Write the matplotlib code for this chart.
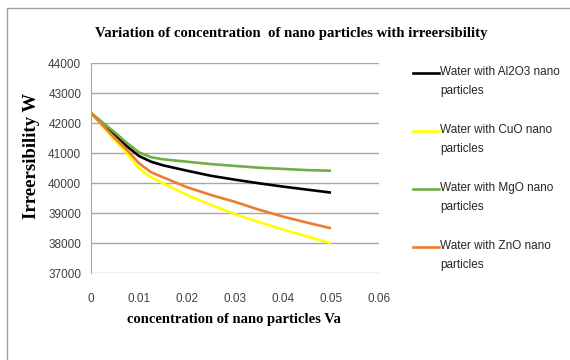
import matplotlib
matplotlib.use('Agg')
import matplotlib.pyplot as plt
from matplotlib.lines import Line2D
from matplotlib.patches import Rectangle

# concentration of nano particles (Va)
va = [0, 0.005, 0.0075, 0.01, 0.0125, 0.015, 0.02, 0.025, 0.03, 0.035, 0.04, 0.045, 0.05]

# irreversibility W
al2o3 = [42340, 41630, 41230, 40910, 40720, 40600, 40420, 40250, 40120, 40000, 39890, 39790, 39690]
cuo = [42340, 41430, 41000, 40500, 40200, 40000, 39610, 39280, 38970, 38710, 38460, 38230, 38000]
mgo = [42340, 41690, 41340, 41030, 40870, 40800, 40720, 40640, 40580, 40520, 40480, 40440, 40420]
zno = [42340, 41500, 41110, 40670, 40370, 40200, 39870, 39610, 39380, 39120, 38890, 38690, 38500]

labels = ['Water with Al2O3 nano\nparticles', 'Water with CuO nano\nparticles',
          'Water with MgO nano\nparticles', 'Water with ZnO nano\nparticles']
colors = ['#000000', '#FFFF00', '#70AD47', '#ED7D31']
series = [al2o3, cuo, mgo, zno]

W, H = 570, 360
fig = plt.figure(figsize=(W / 100, H / 100), dpi=100)
ax = fig.add_axes([91 / W, 1 - 273.3 / H, 288 / W, 210 / H])

for vals, c in zip(series, colors):
    ax.plot(va, vals, color=c, lw=1.9, solid_capstyle='butt', solid_joinstyle='round')

ax.set_xlim(0, 0.06)
ax.set_ylim(37000, 44000)
ax.set_xticks([0, 0.01, 0.02, 0.03, 0.04, 0.05, 0.06])
ax.set_xticklabels(['0', '0.01', '0.02', '0.03', '0.04', '0.05', '0.06'])
ax.set_yticks(range(37000, 44001, 1000))
ax.grid(axis='y', color='#A6A6A6', lw=1)
ax.set_axisbelow(True)
for s in ['top', 'right', 'bottom']:
    ax.spines[s].set_visible(False)
ax.spines['left'].set_color('#A6A6A6')
ax.tick_params(length=0, labelsize=8.5, colors='#404040', pad=7)
for t in ax.get_xticklabels() + ax.get_yticklabels():
    t.set_family('Liberation Sans')
ax.tick_params(axis='x', pad=14)

serif = 'Liberation Serif'
fig.text(291 / W, 1 - 33 / H, 'Variation of concentration  of nano particles with irreersibility',
         ha='center', va='center', family=serif, weight='bold', fontsize=10.6)
fig.text(234 / W, 1 - 319 / H, 'concentration of nano particles Va',
         ha='center', va='center', family=serif, weight='bold', fontsize=10.5)
fig.text(31 / W, 1 - 156 / H, 'Irreersibility W', rotation=90,
         ha='center', va='center', family=serif, weight='bold', fontsize=13.5)

# legend, drawn by hand to match the layout
ys = [73, 131, 189, 247]
for y, lab, c in zip(ys, labels, colors):
    fig.add_artist(Line2D([413 / W, 439 / W], [1 - y / H, 1 - y / H], color=c, lw=1.9))
    fig.text(440 / W, 1 - (y - 7) / H, lab, ha='left', va='top', fontsize=8.5,
             family='Liberation Sans', color='#262626', linespacing=1.75)

fig.add_artist(Rectangle((7 / W, -0.1), 1.2, 1 - 8 / H + 0.1, transform=fig.transFigure,
                         fill=False, edgecolor='#A0A0A0', lw=1))

fig.savefig('out.png', dpi=100)
